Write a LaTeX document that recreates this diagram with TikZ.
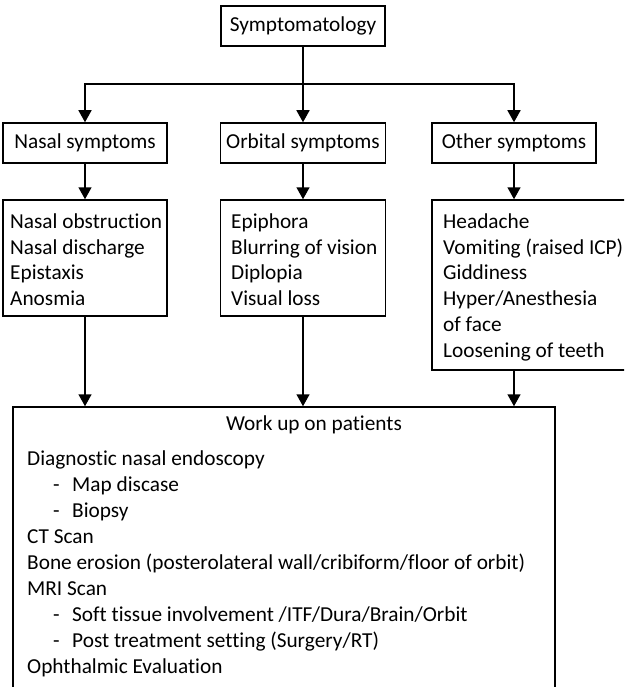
\documentclass[tikz,border=0pt]{standalone}
\usepackage{fontspec}
\setmainfont[Ligatures=NoCommon]{Carlito}
\usetikzlibrary{arrows.meta}
\begin{document}
\begin{tikzpicture}[x=1pt,y=-1pt,
  box/.style={draw,line width=1.5pt,inner sep=0pt,font=\fontsize{21.3}{25.7}\selectfont},
  txt/.style={inner sep=0pt,anchor=base west,font=\fontsize{21.3}{25.7}\selectfont},
  arr/.style={line width=1.5pt,-{Triangle[width=13pt,length=12pt]}},
  ln/.style={line width=1.5pt}]
\clip (0,0) rectangle (624,687);
% top
\node[box,line width=2.6pt,minimum width=164pt,minimum height=40pt] (symp) at (303,26) {Symptomatology};
% level 2
\node[box,minimum width=164pt,minimum height=40pt] (nasal) at (85,143) {Nasal symptoms};
\node[box,minimum width=165pt,minimum height=40pt] (orb) at (303,143) {Orbital symptoms};
\node[box,minimum width=164pt,minimum height=40pt] (other) at (514,143) {Other symptoms};
% level 3 boxes
\node[box,minimum width=164pt,minimum height=116pt] (nlist) at (85,258) {};
\node[box,minimum width=165pt,minimum height=116pt] (olist) at (303,258) {};
\node[box,minimum width=194pt,minimum height=170pt] (xlist) at (529,285) {};
% work-up box
\node[box,minimum width=542pt,minimum height=293pt] (work) at (284,553.5) {};
% list texts
\node[txt] (n1) at (10,228.5) {Nasal obstruction};
\node[txt] (n2) at (10,254.2) {Nasal discharge};
\node[txt] (n3) at (10,279.9) {Epistaxis};
\node[txt] (n4) at (10,305.6) {Anosmia};
\node[txt] (o1) at (231,228.5) {Epiphora};
\node[txt] (o2) at (231,254.2) {Blurring of vision};
\node[txt] (o3) at (231,279.9) {Diplopia};
\node[txt] (o4) at (231,305.6) {Visual loss};
\node[txt] (x1) at (443,228.5) {Headache};
\node[txt] (x2) at (443,254.2) {Vomiting (raised ICP)};
\node[txt] (x3) at (443,279.9) {Giddiness};
\node[txt] (x4) at (443,305.6) {Hyper/Anesthesia};
\node[txt] (x5) at (443,331.3) {of face};
\node[txt] (x6) at (443,357) {Loosening of teeth};
% work-up texts
\node[txt,anchor=base] (wt) at (314,430) {Work up on patients};
\node[txt] (w1) at (27,465) {Diagnostic nasal endoscopy};
\node[txt] (d1) at (53,491) {-};
\node[txt] (w2) at (72,491) {Map discase};
\node[txt] (d2) at (53,517) {-};
\node[txt] (w3) at (72,517) {Biopsy};
\node[txt] (w4) at (27,543) {CT Scan};
\node[txt] (w5) at (27,569) {Bone erosion (posterolateral wall/cribiform/floor of orbit)};
\node[txt] (w6) at (27,595) {MRI Scan};
\node[txt] (d3) at (53,621) {-};
\node[txt] (w7) at (72,621) {Soft tissue involvement /ITF/Dura/Brain/Orbit};
\node[txt] (d4) at (53,647) {-};
\node[txt] (w8) at (72,647) {Post treatment setting (Surgery/RT)};
\node[txt] (w9) at (27,673) {Ophthalmic Evaluation};
% connectors
\coordinate (split) at (303,84);
\draw[arr] (symp.south) -- (orb.north);
\draw[arr] (split) -| (nasal.north);
\draw[arr] (split) -| (other.north);
\draw[arr] (nasal.south) -- (nlist.north);
\draw[arr] (orb.south) -- (olist.north);
\draw[arr] (other.south) -- (other.south |- xlist.north);
\draw[arr] (nlist.south) -- (nlist.south |- work.north);
\draw[arr] (olist.south) -- (olist.south |- work.north);
\draw[arr] (other.south |- xlist.south) -- (other.south |- work.north);
\end{tikzpicture}
\end{document}
